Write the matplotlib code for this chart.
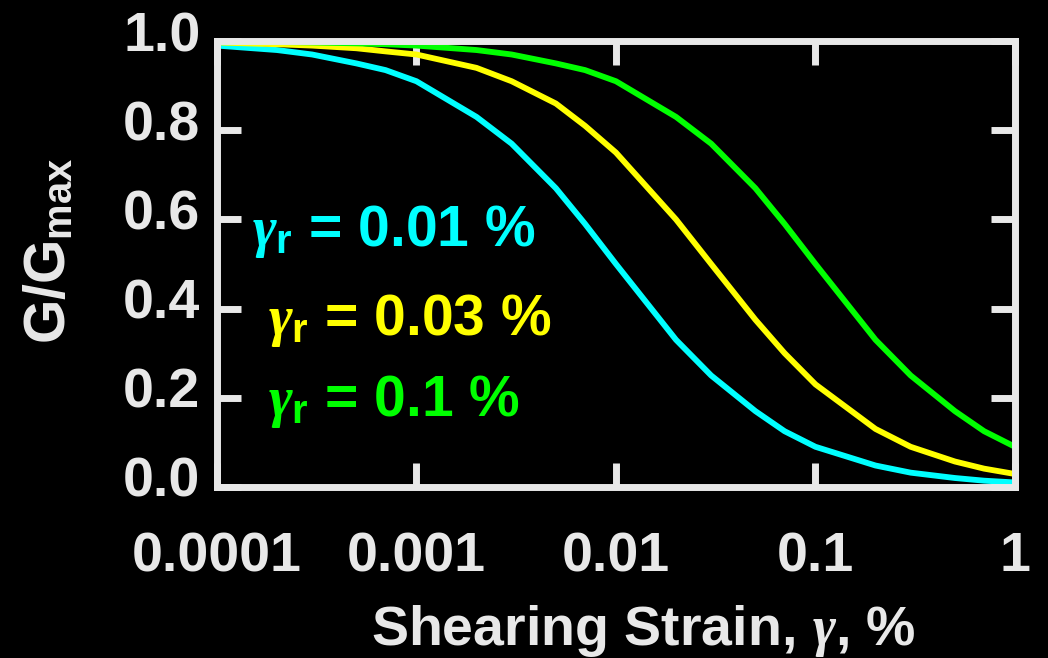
import numpy as np
import matplotlib
matplotlib.use("Agg")
import matplotlib.pyplot as plt
from matplotlib.transforms import ScaledTranslation

# shear strain (%) sample points
strain = [1e-4, 2e-4, 3e-4, 5e-4, 7e-4,
          1e-3, 2e-3, 3e-3, 5e-3, 7e-3,
          1e-2, 2e-2, 3e-2, 5e-2, 7e-2,
          0.1, 0.2, 0.3, 0.5, 0.7, 1.0]

# G/Gmax for each reference strain
g_001 = [0.99, 0.98, 0.97, 0.95, 0.935,
         0.91, 0.83, 0.77, 0.67, 0.59,
         0.50, 0.33, 0.25, 0.17, 0.125,
         0.09, 0.048, 0.032, 0.02, 0.014, 0.01]
g_003 = [0.997, 0.993, 0.99, 0.984, 0.977,
         0.97, 0.94, 0.91, 0.86, 0.81,
         0.75, 0.60, 0.50, 0.375, 0.30,
         0.23, 0.13, 0.09, 0.057, 0.041, 0.029]
g_01 = [0.999, 0.998, 0.997, 0.995, 0.993,
        0.99, 0.98, 0.97, 0.95, 0.935,
        0.91, 0.83, 0.77, 0.67, 0.59,
        0.50, 0.33, 0.25, 0.17, 0.125, 0.09]

labels = ["0.01", "0.03", "0.1"]
colors = ["#00FFFF", "#FFFF00", "#00FF00"]
xticks = [1e-4, 1e-3, 1e-2, 1e-1, 1]
xticklabels = ["0.0001", "0.001", "0.01", "0.1", "1"]
yticks = [0.0, 0.2, 0.4, 0.6, 0.8, 1.0]

FG = "#E8E8E8"
plt.rcParams["font.family"] = ["Liberation Sans", "DejaVu Sans"]
plt.rcParams["font.weight"] = "bold"
plt.rcParams["mathtext.fontset"] = "custom"
plt.rcParams["mathtext.rm"] = "Liberation Sans:bold"
plt.rcParams["mathtext.bf"] = "Liberation Sans:bold"
plt.rcParams["mathtext.it"] = "Liberation Serif:italic"

fig = plt.figure(figsize=(10.48, 6.58), dpi=100, facecolor="black")
ax = fig.add_axes([0.207, 0.26, 0.7615, 0.6775], facecolor="black")

for g, c in zip([g_001, g_003, g_01], colors):
    ax.plot(strain, g, color=c, lw=4.2, solid_joinstyle="miter")

ax.set_xscale("log")
ax.set_xlim(1e-4, 1)
ax.set_ylim(0, 1)
ax.set_xticks(xticks)
ax.set_xticklabels(xticklabels)
ax.minorticks_off()
ax.set_yticks(yticks)
ax.set_yticklabels([f"{v:.1f}" for v in yticks])

for sp in ax.spines.values():
    sp.set_color(FG)
    sp.set_linewidth(5)
ax.tick_params(axis="both", direction="in", length=17, width=5, color=FG,
               labelcolor=FG, labelsize=40)
ax.tick_params(axis="x", top=True, pad=32)
ax.tick_params(axis="y", right=True, pad=12)

# y tick labels sit a little above their ticks in the original
shift = ScaledTranslation(0, 10 / 100, fig.dpi_scale_trans)
for lab in ax.get_yticklabels():
    lab.set_transform(lab.get_transform() + shift)

ax.set_xlabel("Shearing Strain, $\\gamma$, %", color=FG, fontsize=40,
              fontweight="bold")
ax.xaxis.set_label_coords(0.535, -0.26)
ax.set_ylabel("G/G$_{\\mathbf{max}}$", color=FG, fontsize=41, fontweight="bold")
ax.yaxis.set_label_coords(-0.175, 0.53)

# reference-strain annotations
ann_x = [1.5e-4, 1.8e-4, 1.8e-4]
ann_y = [0.54, 0.34, 0.16]
for lab, c, xx, yy in zip(labels, colors, ann_x, ann_y):
    ax.text(xx, yy, "$\\gamma_{\\mathbf{r}}$ = " + lab + " %", color=c,
            fontsize=41, fontweight="bold", va="baseline", ha="left")

fig.savefig("out.png", dpi=100, facecolor="black")
